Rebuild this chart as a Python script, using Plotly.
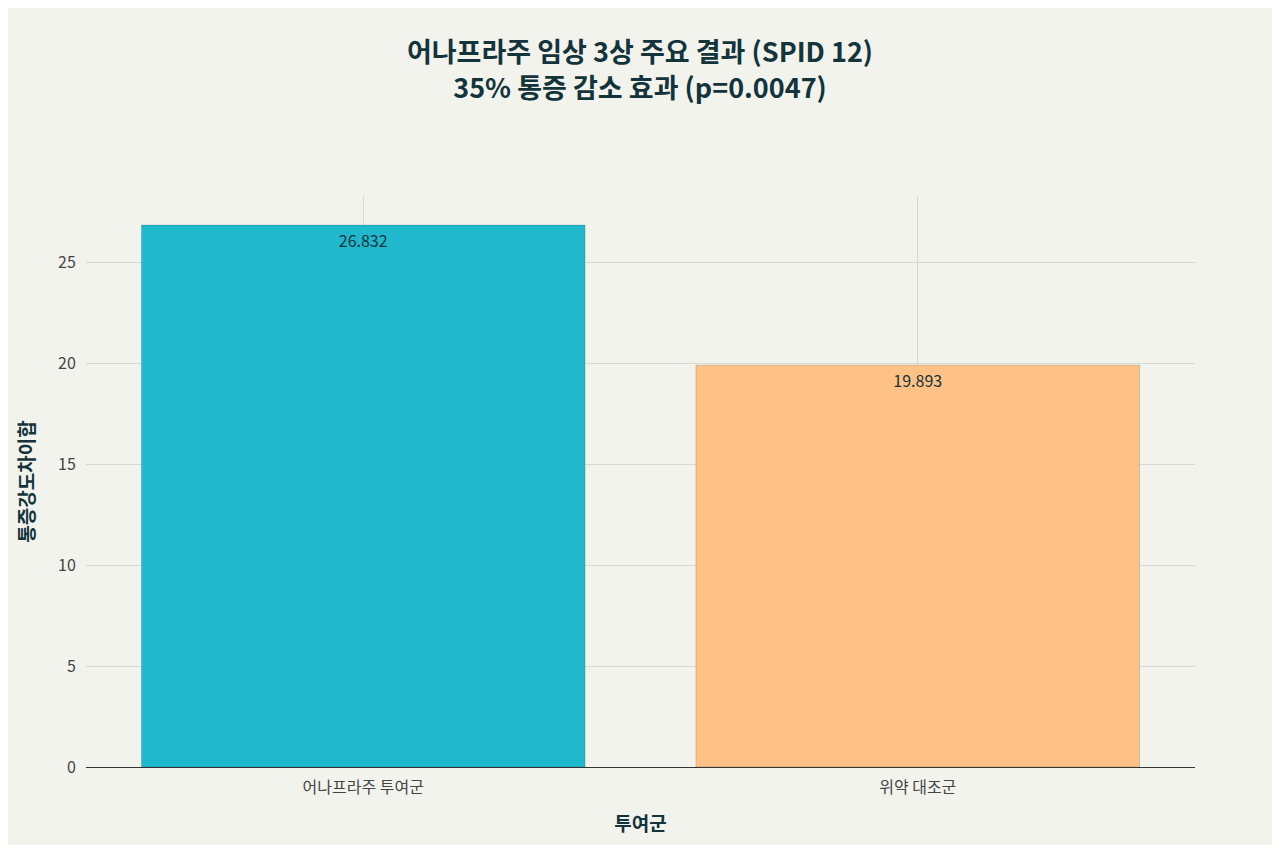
import plotly.graph_objects as go

categories = ["어나프라주 투여군", "위약 대조군"]
values = [26.832, 19.893]
colors = ["#1FB8CD", "#FFC185"]

fig = go.Figure(go.Bar(
    x=categories, y=values, marker_color=colors,
    marker_line=dict(color="rgba(0,0,0,0.15)", width=1),
    text=[f"{v:.3f}" for v in values], textposition="inside",
    insidetextanchor="end", textfont=dict(size=16, color="#13343B"),
    width=0.8,
))
fig.update_layout(
    width=1264, height=837,
    paper_bgcolor="#F3F3EE", plot_bgcolor="#F3F3EE",
    font=dict(family="Noto Sans CJK KR", color="#13343B"),
    title=dict(text="<b>어나프라주 임상 3상 주요 결과 (SPID 12)<br>35% 통증 감소 효과 (p=0.0047)</b>",
               x=0.5, xanchor="center", y=0.935, font=dict(size=27, color="#13343B")),
    margin=dict(l=78, r=77, t=188, b=78),
    showlegend=False,
    xaxis=dict(title=dict(text="<b>투여군</b>", font=dict(size=19), standoff=20), showgrid=True,
               gridcolor="#D8D8D2", tickfont=dict(size=16, color="#444"), ticklen=6,
               ticks="outside", tickcolor="rgba(0,0,0,0)"),
    yaxis=dict(title=dict(text="<b>통증강도차이합</b>", font=dict(size=19), standoff=18), range=[0, 28.27],
               gridcolor="#D8D8D2", tickfont=dict(size=16, color="#444"),
               ticks="outside", tickcolor="rgba(0,0,0,0)", ticklen=6,
               showline=False, zeroline=True, zerolinecolor="#333", zerolinewidth=1),
)
fig.write_html("out.html")
